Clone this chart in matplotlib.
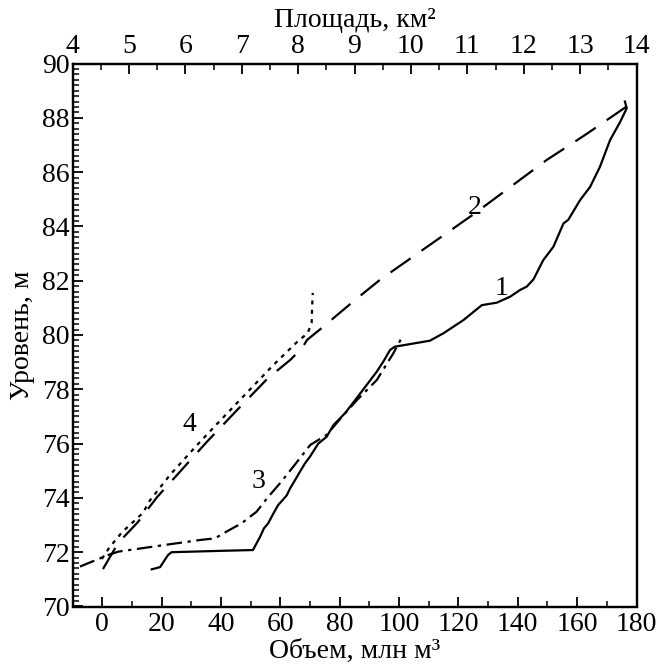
import matplotlib
matplotlib.use("Agg")
import matplotlib.pyplot as plt
from matplotlib.ticker import MultipleLocator

plt.rcParams['font.family'] = ['Liberation Serif', 'DejaVu Serif']
plt.rcParams['font.size'] = 20

# Curve 1: level vs volume (bottom axis)
vol1 = [16.7, 19.5, 22.2, 23.4, 30, 40, 50.8, 53.2, 54.5, 55.9, 57.7, 59.3, 60.8,
        62.2, 63.3, 65, 66.6, 68.3, 70, 72.8, 75.6, 77.9, 81.8, 85.2, 89.1, 92.5,
        94.7, 97, 98.6, 110.4, 114.9, 121.7, 127.9, 132.9, 137.4, 140.8, 143,
        145.3, 148.6, 152, 155.4, 157, 161, 164.4, 167.7, 171.1, 174.5, 176.7, 176.1]
lev1 = [71.37, 71.45, 71.9, 72.0, 72.02, 72.05, 72.08, 72.57, 72.88, 73.06, 73.43,
        73.74, 73.92, 74.1, 74.35, 74.66, 74.96, 75.27, 75.52, 76.0, 76.25, 76.68,
        77.12, 77.6, 78.16, 78.65, 79.02, 79.45, 79.57, 79.79, 80.06, 80.55, 81.1,
        81.19, 81.41, 81.66, 81.78, 82.05, 82.76, 83.25, 84.11, 84.24, 84.97, 85.46,
        86.2, 87.18, 87.85, 88.35, 88.6]

# Curve 2: level vs area (top axis)
area2 = [4.54, 4.81, 5.16, 5.50, 6.38, 6.92, 7.47, 7.86, 8.07, 8.16, 8.42, 9.01,
         9.45, 11.14, 12.41, 13.09, 13.94]
lev2 = [71.38, 72.34, 73.11, 74.03, 76.06, 77.24, 78.42, 79.08, 79.52, 79.82, 80.26,
        81.29, 82.03, 84.49, 86.45, 87.37, 88.58]

# Curve 3: level vs volume (bottom axis)
vol3 = [-7.5, 2.1, 5.4, 20, 33, 38, 41.9, 46.9, 52, 55.5, 59.9, 64.3, 70.1, 75.6,
        80.5, 85.8, 92.5, 98.1, 101.4]
lev3 = [71.47, 71.9, 72.02, 72.25, 72.45, 72.51, 72.76, 73.06, 73.49, 73.98, 74.54,
        75.14, 75.95, 76.32, 76.95, 77.6, 78.34, 79.33, 80.0]

# Curve 4: level vs area (top axis)
area4 = [4.52, 4.66, 4.88, 5.25, 5.37, 5.73, 6.21, 6.56, 7.15, 7.54, 7.98, 8.17,
         8.24, 8.25, 8.26]
lev4 = [71.75, 72.19, 72.74, 73.45, 73.9, 74.85, 75.95, 76.72, 78.0, 78.85, 79.74,
        80.07, 80.44, 81.11, 81.55]

xticks_vol = [0, 20, 40, 60, 80, 100, 120, 140, 160, 180]
xticks_area = [4, 5, 6, 7, 8, 9, 10, 11, 12, 13, 14]
yticks = [70, 72, 74, 76, 78, 80, 82, 84, 86, 88, 90]

fig = plt.figure(figsize=(6.58, 6.65), dpi=100)
ax = fig.add_axes([72.5 / 658, 58.5 / 665, 564 / 658, 543 / 665])
ax2 = ax.twiny()

lw = 1.6
ax.plot(vol1, lev1, color='black', lw=lw, solid_joinstyle='round')
ax.plot(vol3, lev3, color='black', lw=lw, dashes=(7, 2.5, 1.5, 2.5), dash_capstyle='butt')
ax2.plot(area2, lev2, color='black', lw=lw, dashes=(11, 6), dash_capstyle='butt')
ax2.plot(area4, lev4, color='black', lw=lw, dashes=(1.8, 2.4), dash_capstyle='butt')

ax.set_xlim(-10, 180)
ax.set_ylim(70, 90)
ax2.set_xlim(4, 14)

ax.set_xticks(xticks_vol)
ax.set_yticks(yticks)
ax2.set_xticks(xticks_area)
ax.xaxis.set_minor_locator(MultipleLocator(10))
ax.yaxis.set_minor_locator(MultipleLocator(0.2))
ax2.xaxis.set_minor_locator(MultipleLocator(0.5))

fs = 20
ax.tick_params(axis='x', which='major', direction='in', length=7, width=1.3, labelsize=fs, pad=4, top=False)
ax.tick_params(axis='x', which='minor', direction='in', length=4, width=1.1, top=False)
ax.tick_params(axis='y', which='major', direction='in', length=7, width=1.3, labelsize=fs, pad=2, right=False)
ax.tick_params(axis='y', which='minor', direction='in', length=4, width=1.1, right=False)
ax2.tick_params(axis='x', which='major', direction='in', length=7, width=1.3, labelsize=fs, pad=3)
ax2.tick_params(axis='x', which='minor', direction='in', length=4, width=1.1)

for a in (ax, ax2):
    for s in a.spines.values():
        s.set_linewidth(1.6)

ax.set_xlabel('Объем, млн м³', fontsize=fs, labelpad=1)
ax.set_ylabel('Уровень, м', fontsize=fs, labelpad=5)
ax2.set_xlabel('Площадь, км²', fontsize=fs, labelpad=5)

ax.text(134.5, 81.7, '1', fontsize=fs, ha='center', va='center')
ax.text(125.5, 84.7, '2', fontsize=fs, ha='center', va='center')
ax.text(52.5, 74.6, '3', fontsize=fs, ha='center', va='center')
ax.text(29.5, 76.7, '4', fontsize=fs, ha='center', va='center')

fig.savefig('out.png', dpi=100)
